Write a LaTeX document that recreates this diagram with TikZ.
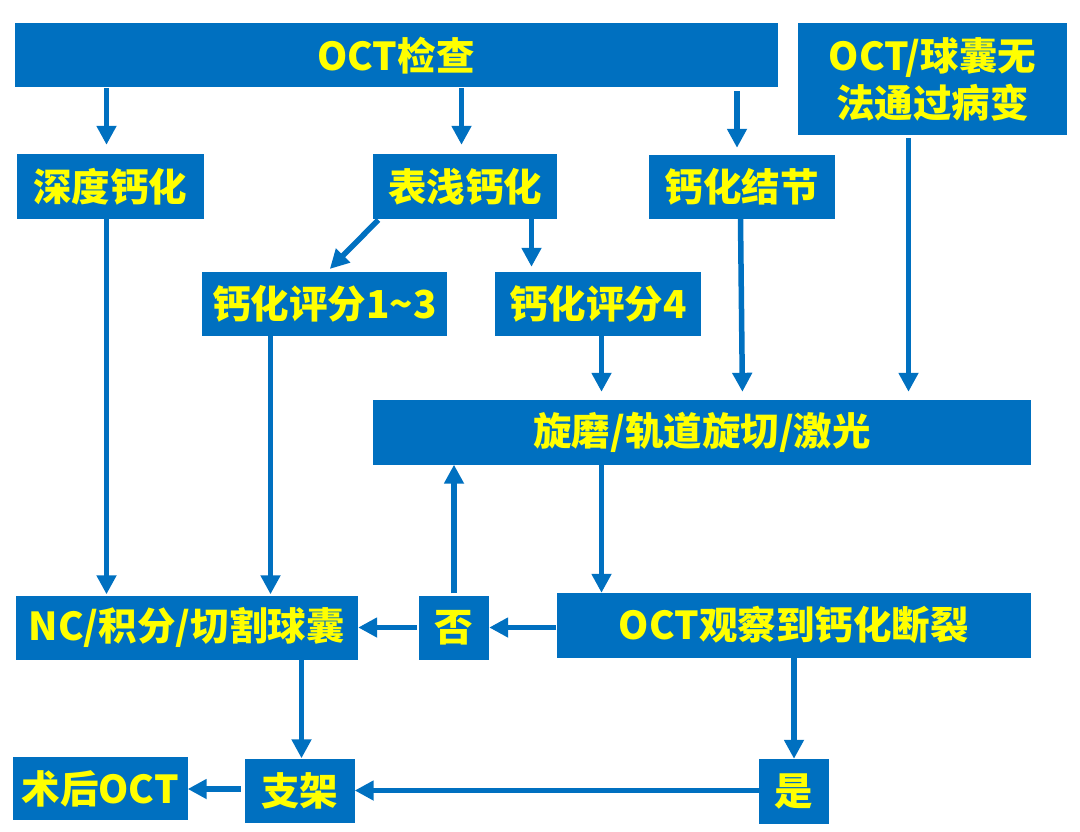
\documentclass[tikz,border=0pt]{standalone}
\usepackage{fontspec}
\setmainfont{Noto Sans CJK SC}
\usetikzlibrary{arrows.meta}
\definecolor{bblue}{HTML}{0070C0}
\definecolor{tyell}{HTML}{FFFF00}
\tikzset{
  box/.style={fill=bblue, draw=none, inner sep=0pt, text=tyell,
    font=\fontsize{38.5}{47}\selectfont\bfseries, align=center},
  arr/.style={draw=bblue, line width=5.5pt,
    -{Triangle[width=19pt,length=19pt]}}
}
\newcommand\bbox[6]{\node[box, minimum width={(#4-#2)*1pt}, minimum height={(#5-#3)*1pt}] (#1) at ({(#2+#4)/2},{(#3+#5)/2}) {#6};}
\begin{document}
\begin{tikzpicture}[x=1pt,y=-1pt]
\useasboundingbox (0,0) rectangle (1080,832);
\bbox{oct}{14.5}{23.5}{777.5}{87}{OCT检查}
\bbox{cannot}{798}{23.5}{1067}{135}{OCT/球囊无\\法通过病变}
\bbox{deep}{17}{154}{204}{219}{深度钙化}
\bbox{shallow}{373}{154}{557}{219}{表浅钙化}
\bbox{nodule}{648.5}{155}{834.5}{219}{钙化结节}
\bbox{sa}{202}{272}{447}{336}{钙化评分1\char"007E 3}
\bbox{sb}{495}{272}{701}{336}{钙化评分4}
\bbox{rot}{373}{400}{1031}{464.5}{旋磨/轨道旋切/激光}
\bbox{nc}{15.5}{595.5}{358}{660}{NC/积分/切割球囊}
\bbox{no}{419}{595.5}{489}{660}{否}
\bbox{obs}{556.5}{593}{1031}{657.5}{OCT观察到钙化断裂}
\bbox{post}{13}{757}{187.5}{820}{术后OCT}
\bbox{stent}{245}{758.5}{354.5}{823}{支架}
\bbox{yes}{759}{759}{828.5}{823.5}{是}
% x positions
\coordinate (xa) at (106.5,0);
\coordinate (xb) at (461.5,0);
\coordinate (xc) at (737,0);
\coordinate (xd) at (531.5,0);
\coordinate (xe) at (270.5,0);
\coordinate (xf) at (601.5,0);
\coordinate (xg1) at (740.5,0);
\coordinate (xg2) at (742.5,0);
\coordinate (xh) at (908.5,0);
\coordinate (xi) at (454,0);
\coordinate (xj) at (301.5,0);
\coordinate (xk) at (794,0);
\coordinate (xs) at (379,0);
\coordinate (xt) at (327,0);
\coordinate (ya) at (0,627.5);
\coordinate (yb) at (0,790.5);
\coordinate (yc) at (0,789);
% arrows
\draw[arr, shorten <=1pt, shorten >=9pt] (oct.south -| xa) -- (deep.north -| xa);
\draw[arr, shorten <=1pt, shorten >=9pt] (oct.south -| xb) -- (shallow.north -| xb);
\draw[arr, shorten <=4pt, shorten >=7pt] (oct.south -| xc) -- (nodule.north -| xc);
\draw[arr, shorten >=1pt] (deep.south -| xa) -- (nc.north -| xa);
\draw[arr, shorten <=1pt, shorten >=4pt] (shallow.south -| xs) -- (sa.north -| xt);
\draw[arr, shorten >=5pt] (shallow.south -| xd) -- (sb.north -| xd);
\draw[arr, shorten >=1pt] (sa.south -| xe) -- (nc.north -| xe);
\draw[arr, shorten >=8pt] (sb.south -| xf) -- (rot.north -| xf);
\draw[arr, shorten >=8pt] (nodule.south -| xg1) -- (rot.north -| xg2);
\draw[arr, shorten <=3pt, shorten >=8pt] (cannot.south -| xh) -- (rot.north -| xh);
\draw[arr] (rot.south -| xf) -- (obs.north -| xf);
\draw[arr, shorten <=2pt] (no.north -| xi) -- (rot.south -| xi);
\draw[arr] (obs.west |- ya) -- (no.east |- ya);
\draw[arr, shorten <=2pt] (no.west |- ya) -- (nc.east |- ya);
\draw[arr] (nc.south -| xj) -- (stent.north -| xj);
\draw[arr] (obs.south -| xk) -- (yes.north -| xk);
\draw[arr] (yes.west |- yb) -- (stent.east |- yb);
\draw[arr, shorten <=4pt] (stent.west |- yc) -- (post.east |- yc);
\end{tikzpicture}
\end{document}
